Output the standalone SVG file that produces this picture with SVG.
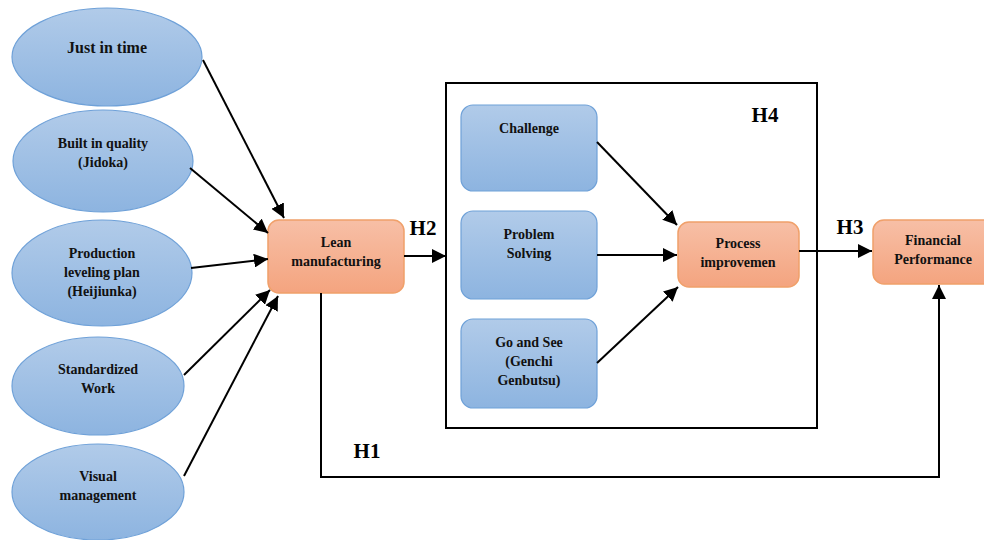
<svg xmlns="http://www.w3.org/2000/svg" width="984" height="540" viewBox="0 0 984 540" font-family="'Liberation Serif', 'Times New Roman', serif">
<defs>
<linearGradient id="gb" x1="0" y1="0" x2="0" y2="1"><stop offset="0" stop-color="#b1cbe9"/><stop offset="1" stop-color="#8db4e0"/></linearGradient>
<linearGradient id="go" x1="0" y1="0" x2="0" y2="1"><stop offset="0" stop-color="#f7bfa6"/><stop offset="1" stop-color="#f4a47f"/></linearGradient>
<marker id="a" viewBox="0 0 12 12" refX="12" refY="6" markerWidth="14" markerHeight="14" orient="auto" markerUnits="userSpaceOnUse"><path d="M0,0 L12,6 L0,12 z" fill="#000"/></marker>
<style>
.el{fill:url(#gb);stroke:#6fa1d8;stroke-width:1.2}
.bb{fill:url(#gb);stroke:#6fa1d8;stroke-width:1.2}
.ob{fill:url(#go);stroke:#f0a06a;stroke-width:1.5}
.t{font-family:'Liberation Serif','Times New Roman',serif;font-weight:bold;font-size:14px;fill:#111;text-anchor:middle}
.h{font-family:'Liberation Serif','Times New Roman',serif;font-weight:bold;font-size:21px;fill:#000;text-anchor:middle}
.c{stroke:#000;stroke-width:2;fill:none}
</style>
</defs>
<rect width="984" height="540" fill="#fff"/>
<g id="frame"><rect x="446" y="83" width="371" height="345" fill="none" stroke="#000" stroke-width="2"/></g>
<g id="n-jit"><ellipse class="el" cx="107" cy="57" rx="95" ry="49"/><text class="t" x="107" y="53" style="font-size:16px">Just in time</text></g>
<g id="n-biq"><ellipse class="el" cx="103" cy="161" rx="90" ry="51"/><text class="t" x="103" y="148">Built in quality</text><text class="t" x="103" y="167">(Jidoka)</text></g>
<g id="n-plp"><ellipse class="el" cx="102" cy="273" rx="90" ry="53"/><text class="t" x="102" y="258">Production</text><text class="t" x="102" y="277">leveling plan</text><text class="t" x="102" y="296">(Heijiunka)</text></g>
<g id="n-sw"><ellipse class="el" cx="98" cy="386" rx="86" ry="49"/><text class="t" x="98" y="374">Standardized</text><text class="t" x="98" y="393">Work</text></g>
<g id="n-vm"><ellipse class="el" cx="98" cy="492" rx="86" ry="48"/><text class="t" x="98" y="481">Visual</text><text class="t" x="98" y="500">management</text></g>
<g id="n-lean"><rect class="ob" x="268" y="220" width="136" height="73" rx="11"/><text class="t" x="336" y="247">Lean</text><text class="t" x="336" y="266">manufacturing</text></g>
<g id="n-ch"><rect class="bb" x="461" y="105" width="136" height="86" rx="12"/><text class="t" x="529" y="133">Challenge</text></g>
<g id="n-ps"><rect class="bb" x="461" y="211" width="136" height="88" rx="12"/><text class="t" x="529" y="239">Problem</text><text class="t" x="529" y="258">Solving</text></g>
<g id="n-gs"><rect class="bb" x="461" y="319" width="136" height="89" rx="12"/><text class="t" x="529" y="347">Go and See</text><text class="t" x="529" y="366">(Genchi</text><text class="t" x="529" y="385">Genbutsu)</text></g>
<g id="n-pi"><rect class="ob" x="678" y="222" width="121" height="65" rx="11"/><text class="t" x="738" y="248">Process</text><text class="t" x="738" y="267">improvemen</text></g>
<g id="n-fp"><rect class="ob" x="873" y="220" width="125" height="64" rx="11"/><text class="t" x="933" y="245">Financial</text><text class="t" x="933" y="264">Performance</text></g>
<g id="connectors">
<line class="c" x1="203" y1="60" x2="284" y2="218" marker-end="url(#a)"/>
<line class="c" x1="190" y1="168" x2="268" y2="233" marker-end="url(#a)"/>
<line class="c" x1="191" y1="268" x2="268" y2="259" marker-end="url(#a)"/>
<line class="c" x1="184" y1="375" x2="270" y2="290" marker-end="url(#a)"/>
<line class="c" x1="184" y1="476" x2="278" y2="296" marker-end="url(#a)"/>
<line class="c" x1="404" y1="256" x2="446" y2="256" marker-end="url(#a)"/>
<line class="c" x1="597" y1="142" x2="677" y2="225" marker-end="url(#a)"/>
<line class="c" x1="597" y1="255" x2="677" y2="255" marker-end="url(#a)"/>
<line class="c" x1="597" y1="363" x2="678" y2="287" marker-end="url(#a)"/>
<line class="c" x1="799" y1="251" x2="872" y2="251" marker-end="url(#a)"/>
<polyline class="c" points="321,293 321,477 939,477 939,285" marker-end="url(#a)"/>
<text class="h" x="423" y="235">H2</text>
<text class="h" x="765" y="122">H4</text>
<text class="h" x="850" y="234">H3</text>
<text class="h" x="367" y="458">H1</text>
</g>
</svg>
